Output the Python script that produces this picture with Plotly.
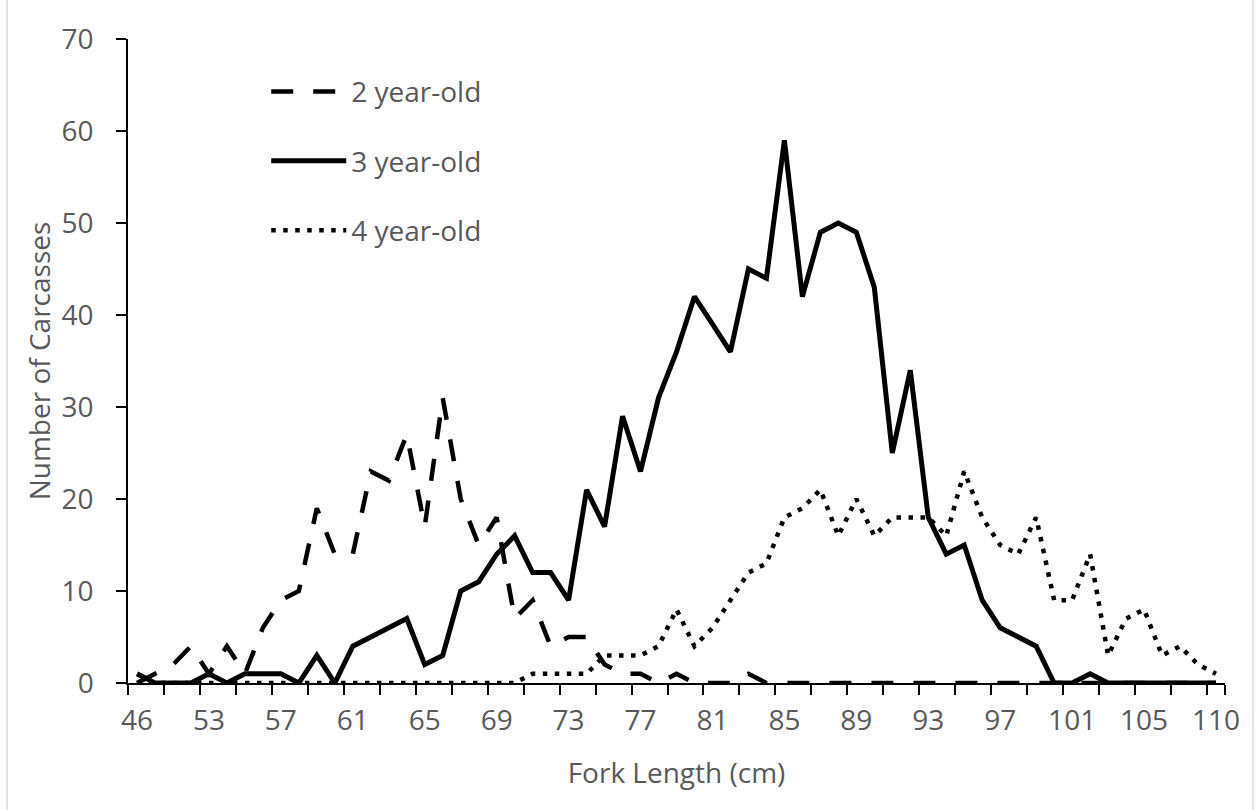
import plotly.graph_objects as go

# Fork length categories (cm) as shown on the category axis
fork_length = [46, 48, 50, 52, 53, 54, 55, 56, 57, 58, 59, 60, 61, 62, 63, 64, 65, 66,
               67, 68, 69, 70, 71, 72, 73, 74, 75, 76, 77, 78, 79, 80, 81, 82, 83, 84,
               85, 86, 87, 88, 89, 90, 91, 92, 93, 94, 95, 96, 97, 98, 99, 100, 101,
               102, 103, 104, 105, 106, 107, 108, 110]

age2 = [0, 1, 2, 4, 1, 4, 1, 6, 9, 10, 19, 14, 14, 23, 22, 27, 17, 31, 20, 15, 18,
        7, 9, 4, 5, 5, 2, 1, 1, 0, 1, 0, 0, 0, 1, 0, 0, 0, 0, 0, 0, 0, 0, 0, 0,
        0, 0, 0, 0, 0, 0, 0, 0, 0, 0, 0, 0, 0, 0, 0, 0]

age3 = [1, 0, 0, 0, 1, 0, 1, 1, 1, 0, 3, 0, 4, 5, 6, 7, 2, 3, 10, 11, 14, 16, 12,
        12, 9, 21, 17, 29, 23, 31, 36, 42, 39, 36, 45, 44, 59, 42, 49, 50, 49, 43,
        25, 34, 18, 14, 15, 9, 6, 5, 4, 0, 0, 1, 0, 0, 0, 0, 0, 0, 0]

age4 = [0, 0, 0, 0, 0, 0, 0, 0, 0, 0, 0, 0, 0, 0, 0, 0, 0, 0, 0, 0, 0, 0, 1, 1, 1,
        1, 3, 3, 3, 4, 8, 4, 6, 9, 12, 13, 18, 19, 21, 16, 20, 16, 18, 18, 18, 16,
        23, 18, 15, 14, 18, 9, 9, 14, 3, 7, 8, 3, 4, 2, 1]

series_names = ["2 year-old", "3 year-old", "4 year-old"]
y_ticks = [0, 10, 20, 30, 40, 50, 60, 70]

cats = [str(v) for v in fork_length]
tick_vals = cats[::2]
tick_text = [c if i % 2 == 0 else "" for i, c in enumerate(tick_vals)]

FONT = "Open Sans"
GREY = "#595959"

fig = go.Figure()
styles = [
    dict(color="black", width=4.5, dash="22px,20px"),
    dict(color="black", width=5),
    dict(color="black", width=4.5, dash="4.5px,7.5px"),
]
for name, vals, st, grp in zip(series_names, [age2, age3, age4], styles, ["a", "b", "c"]):
    fig.add_trace(go.Scatter(
        x=cats, y=vals, mode="lines", name=name, line=st,
        legendgroup=grp, hoverinfo="x+y+name"))

fig.update_layout(
    width=1255, height=810,
    margin=dict(l=128, r=30, t=39, b=127),
    paper_bgcolor="white", plot_bgcolor="white",
    font=dict(family=FONT, size=28, color=GREY),
    showlegend=True,
    legend=dict(x=0.126, y=0.957, xanchor="left", yanchor="top",
                bgcolor="rgba(0,0,0,0)", itemwidth=75, tracegroupgap=30,
                font=dict(family=FONT, size=28, color=GREY), traceorder="grouped"),
    xaxis=dict(type="category", categoryorder="array", categoryarray=cats,
               range=[-0.5, len(cats) - 0.5], automargin=False,
               tickmode="array", tickvals=tick_vals, ticktext=tick_text, tickangle=0,
               tickson="boundaries", ticks="outside", ticklen=10, tickwidth=1.5,
               tickcolor="black", showline=True, linecolor="black", linewidth=1.5,
               showgrid=False, zeroline=False, ticklabelstandoff=12,
               tickfont=dict(family=FONT, size=28, color=GREY),
               title=dict(text="Fork Length (cm)", standoff=26,
                          font=dict(family=FONT, size=28, color=GREY))),
    yaxis=dict(range=[0, 70], tickmode="array", tickvals=y_ticks, automargin=False,
               ticks="outside", ticklen=10, tickwidth=1.5, tickcolor="black",
               showline=True, linecolor="black", linewidth=1.5,
               showgrid=False, zeroline=False, ticklabelstandoff=17,
               tickfont=dict(family=FONT, size=28, color=GREY),
               title=dict(text="Number of Carcasses", standoff=3,
                          font=dict(family=FONT, size=28, color=GREY))),
)

# light grey chart-area border (left and right edges)
fig.add_shape(type="line", xref="paper", yref="paper",
              x0=(7 - 128) / 1097, x1=(7 - 128) / 1097, y0=-127 / 644, y1=(683 - 0) / 644,
              line=dict(color="#d9d9d9", width=1.5))
fig.add_shape(type="line", xref="paper", yref="paper",
              x0=(1253 - 128) / 1097, x1=(1253 - 128) / 1097, y0=-127 / 644, y1=(683 - 0) / 644,
              line=dict(color="#d9d9d9", width=1.5))

fig.write_html("out.html")
